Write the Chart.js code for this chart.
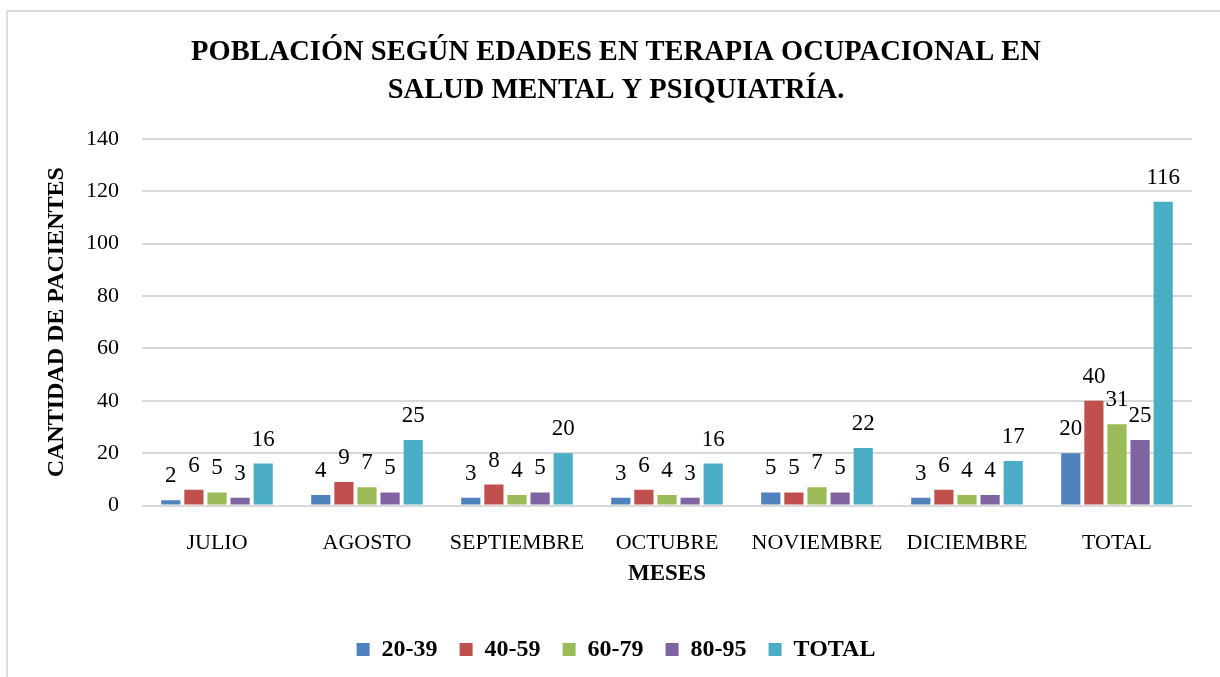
<!DOCTYPE html>
<html>
<head>
<meta charset="utf-8">
<script src="https://cdn.jsdelivr.net/npm/chart.js@4/dist/chart.umd.min.js"></script>
<style>
  html, body { margin: 0; padding: 0; background: #ffffff; overflow: hidden; }
  #frame { position: absolute; left: 6px; top: 10px; width: 1400px; height: 900px;
           border-left: 2px solid #dcdcdc; border-top: 2px solid #dcdcdc; }
  #wrap { position: absolute; left: 0; top: 0; width: 1220px; height: 677px; }
</style>
</head>
<body>
<div id="frame"></div>
<div id="wrap"><canvas id="c" width="1220" height="677"></canvas></div>
<script>
const categories = ['JULIO', 'AGOSTO', 'SEPTIEMBRE', 'OCTUBRE', 'NOVIEMBRE', 'DICIEMBRE', 'TOTAL'];
const age20to39 = [2, 4, 3, 3, 5, 3, 20];
const age40to59 = [6, 9, 8, 6, 5, 6, 40];
const age60to79 = [5, 7, 4, 4, 7, 4, 31];
const age80to95 = [3, 5, 5, 3, 5, 4, 25];
const totalSeries = [16, 25, 20, 16, 22, 17, 116];
const seriesNames = ['20-39', '40-59', '60-79', '80-95', 'TOTAL'];
const yTicks = [0, 20, 40, 60, 80, 100, 120, 140];

const colors = ['#4F81BD', '#C0504D', '#9BBB59', '#8064A2', '#4BACC6'];
const seriesData = [age20to39, age40to59, age60to79, age80to95, totalSeries];
const SERIF = "'Liberation Serif', 'Times New Roman', serif";

const valueLabels = {
  id: 'valueLabels',
  afterDatasetsDraw(chart) {
    const ctx = chart.ctx;
    ctx.save();
    ctx.font = "23px " + SERIF;
    ctx.fillStyle = '#000000';
    ctx.textAlign = 'center';
    ctx.textBaseline = 'middle';
    chart.data.datasets.forEach((ds, di) => {
      const meta = chart.getDatasetMeta(di);
      meta.data.forEach((bar, i) => {
        ctx.fillText(String(ds.data[i]), bar.x, bar.y - 24);
      });
    });
    ctx.restore();
  }
};

new Chart(document.getElementById('c'), {
  type: 'bar',
  data: {
    labels: categories,
    datasets: seriesData.map((d, i) => ({
      label: seriesNames[i],
      data: d,
      backgroundColor: colors[i],
      borderWidth: 0,
      categoryPercentage: 0.77,
      barPercentage: 0.83
    }))
  },
  options: {
    responsive: false,
    animation: false,
    layout: { padding: { left: 40, right: 28, top: 0, bottom: 5.5 } },
    plugins: {
      title: {
        display: true,
        text: ['POBLACIÓN SEGÚN EDADES EN TERAPIA OCUPACIONAL EN', 'SALUD MENTAL Y PSIQUIATRÍA.'],
        color: '#000000',
        font: { family: SERIF, size: 28.5, weight: 'bold', lineHeight: 1.35 },
        padding: { top: 33, bottom: 29 }
      },
      legend: {
        position: 'bottom',
        labels: {
          boxWidth: 13,
          boxHeight: 13,
          padding: 22,
          color: '#000000',
          font: { family: SERIF, size: 24, weight: 'bold' }
        }
      },
      tooltip: { enabled: false }
    },
    scales: {
      x: {
        grid: { display: false },
        border: { display: false },
        ticks: {
          color: '#000000',
          padding: 17,
          maxRotation: 0,
          autoSkip: false,
          font: { family: SERIF, size: 22, lineHeight: 1.2 }
        },
        title: {
          display: true,
          text: 'MESES',
          color: '#000000',
          font: { family: SERIF, size: 23, weight: 'bold', lineHeight: 1.2 },
          padding: { top: 0, bottom: 28 }
        },
        afterFit(scale) { scale.height = 110; }
      },
      y: {
        min: 0,
        max: 140,
        grid: { color: '#d9d9d9', lineWidth: 2, drawTicks: false },
        border: { display: false },
        afterBuildTicks(scale) { scale.ticks = yTicks.map(v => ({ value: v })); },
        ticks: {
          color: '#000000',
          padding: 23,
          font: { family: SERIF, size: 22 }
        },
        title: {
          display: true,
          text: 'CANTIDAD DE PACIENTES',
          color: '#000000',
          font: { family: SERIF, size: 24, weight: 'bold', lineHeight: 1.2 },
          padding: { top: 2, bottom: 0 }
        },
        afterFit(scale) { scale.width = 102; }
      }
    }
  },
  plugins: [valueLabels]
});
</script>
</body>
</html>
